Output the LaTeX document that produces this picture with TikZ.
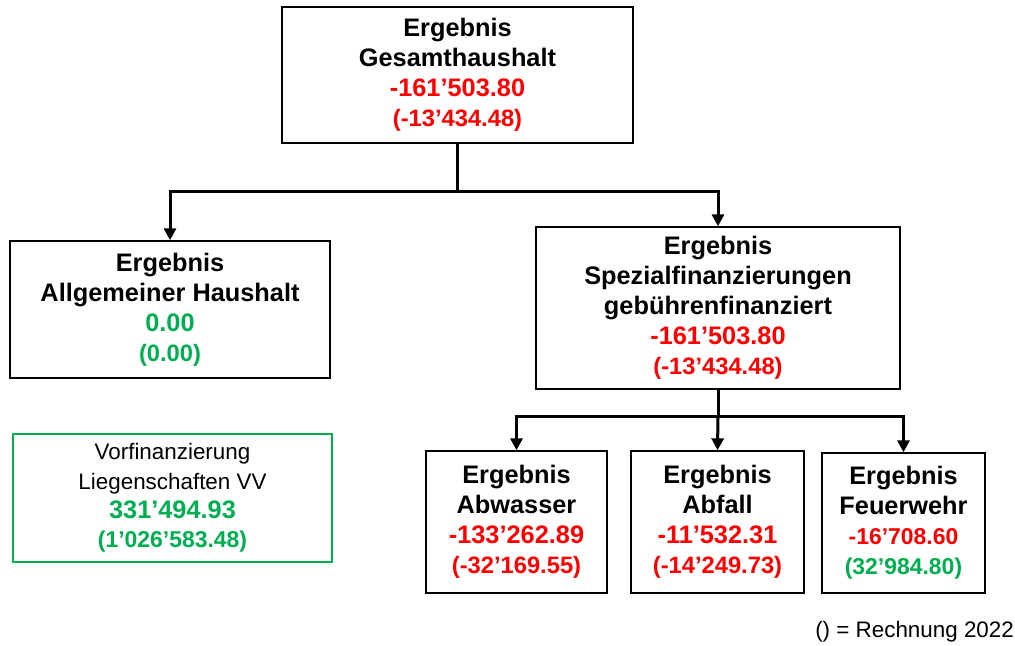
\documentclass[tikz,border=0pt]{standalone}
\usepackage{fontspec}
\setmainfont{Liberation Sans}
\usetikzlibrary{arrows.meta}
\definecolor{myred}{RGB}{255,0,0}
\definecolor{mygreen}{RGB}{0,176,80}
\newcommand\fsBig{\fontsize{19}{22.5}\selectfont}
\newcommand\fsSm{\fontsize{17.8}{22.5}\selectfont}
\newcommand\fsFeu{\fontsize{17.2}{22.5}\selectfont}
\newcommand\fsReg{\fontsize{16.8}{22}\selectfont}
\begin{document}
\begin{tikzpicture}[x=0.75pt,y=-0.75pt,
  box/.style={draw=black, line width=1pt, align=center, inner sep=0pt, font=\bfseries\fsBig},
  conn/.style={line width=2.25pt},
  arr/.style={conn,-{Triangle[length=9pt,width=9pt]}}]
\useasboundingbox (0,0) rectangle (1015,646);
\fill[white] (0,0) rectangle (1015,646);

\node[box, minimum width=263.25pt, minimum height=102pt] (top) at (457.5,75)
  {Ergebnis\\Gesamthaushalt\\\textcolor{myred}{-161’503.80}\\{\fsSm\textcolor{myred}{(-13’434.48)}}};

\node[box, minimum width=240pt, minimum height=102.75pt] (allg) at (170,309.5)
  {Ergebnis\\Allgemeiner Haushalt\\\textcolor{mygreen}{0.00}\\{\fsSm\textcolor{mygreen}{(0.00)}}};

\node[box, minimum width=273pt, minimum height=121.5pt] (spez) at (718,308)
  {Ergebnis\\Spezialfinanzierungen\\gebührenfinanziert\\\textcolor{myred}{-161’503.80}\\{\fsSm\textcolor{myred}{(-13’434.48)}}};

\node[box, draw=mygreen, font=\fsReg, minimum width=239.25pt, minimum height=96pt] (vorf) at (172.5,498)
  {Vorfinanzierung\\Liegenschaften VV\\{\bfseries\fsBig\textcolor{mygreen}{331’494.93}}\\{\bfseries\fsFeu\textcolor{mygreen}{(1’026’583.48)}}};

\node[box, minimum width=135.75pt, minimum height=106.5pt] (abw) at (516.5,522)
  {Ergebnis\\Abwasser\\\textcolor{myred}{-133’262.89}\\{\fsSm\textcolor{myred}{(-32’169.55)}}};

\node[box, minimum width=129.75pt, minimum height=106.5pt] (abf) at (717.5,522)
  {Ergebnis\\Abfall\\\textcolor{myred}{-11’532.31}\\{\fsSm\textcolor{myred}{(-14’249.73)}}};

\node[box, minimum width=122.25pt, minimum height=105pt] (feu) at (903.5,523)
  {Ergebnis\\Feuerwehr\\{\fsFeu\textcolor{myred}{-16’708.60}}\\{\fsFeu\textcolor{mygreen}{(32’984.80)}}};

\node[anchor=west, inner sep=0pt, font=\fontsize{16.8}{20}\selectfont] (note) at (815,632) {() = Rechnung 2022};

\coordinate (j1) at (457.5,191);
\coordinate (j2) at (718,416);
\draw[conn] (top.south) -- (j1);
\draw[arr] (j1) -| (allg.north);
\draw[arr] (j1) -| (spez.north);
\draw[conn] (spez.south) -- (j2);
\draw[arr] (j2) -| (abw.north);
\draw[arr] (j2) -- (abf.north);
\draw[arr] (j2) -| (feu.north);
\end{tikzpicture}
\end{document}
